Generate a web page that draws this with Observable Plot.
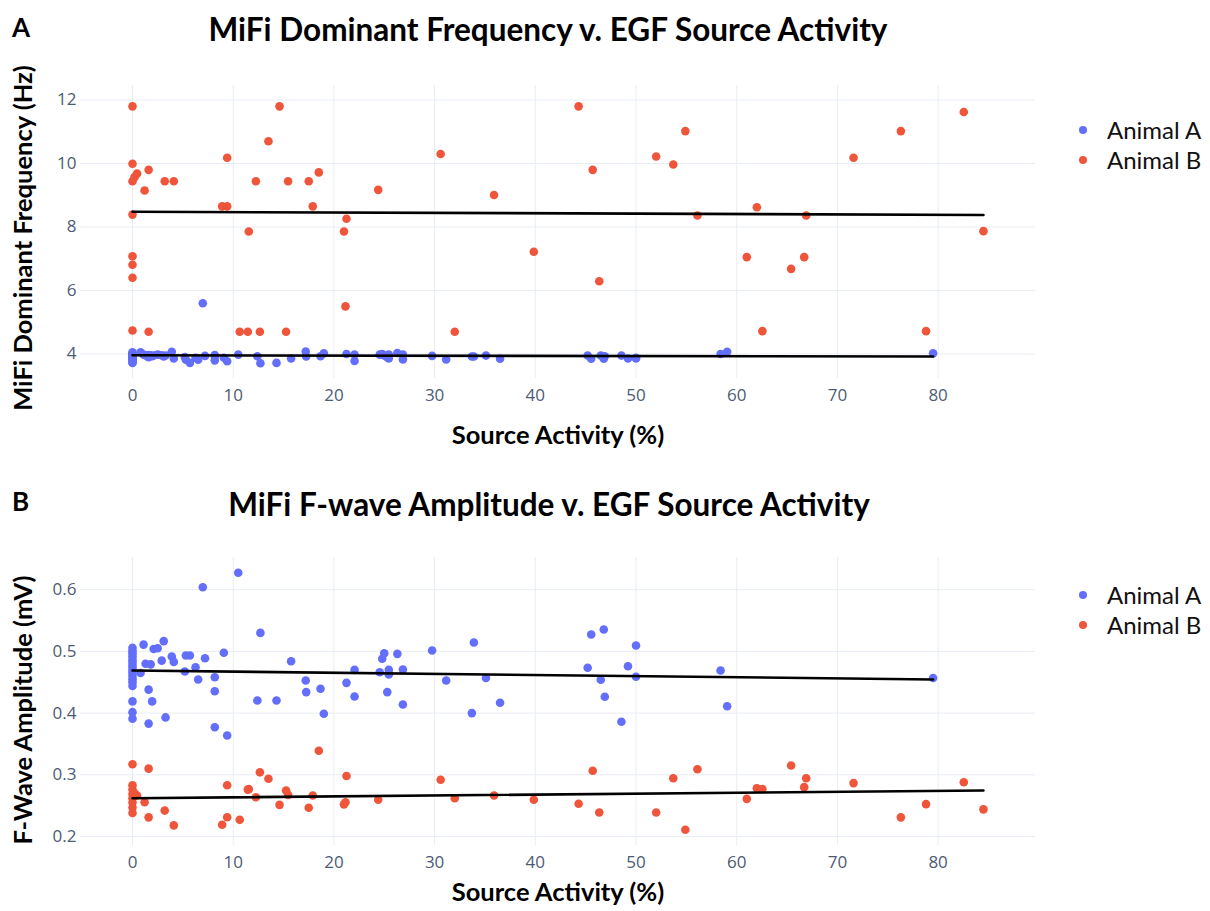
<!DOCTYPE html>
<html><head><meta charset="utf-8">
<script src="https://cdn.jsdelivr.net/npm/d3@7"></script>
<script src="https://cdn.jsdelivr.net/npm/@observablehq/plot@0.6"></script>
<style>
html,body{margin:0;padding:0;background:#fff;}
#fig{position:relative;width:1210px;height:911px;overflow:hidden;background:#fff;}
#fig > svg{position:absolute;}
</style></head><body><div id="fig"></div>
<script>
// ---------- tick labels / categories ----------
const activityTicks = [0,10,20,30,40,50,60,70,80];
const freqTicks = [4,6,8,10,12];
const ampTicks = [0.2,0.3,0.4,0.5,0.6];
const seriesNames = ["Animal A","Animal B"];
const seriesColors = ["#636efa","#ef553b"];

// ---------- Animal A (source activity %, dominant frequency Hz, F-wave amplitude mV) ----------
const animalA_activity = [0,0,0,0,0,0,0,0,0,0,0,0,0,0,0,0,0,
  0.8,1.1,1.3,1.6,1.6,1.8,1.95,2.1,2.5,2.9,3.1,3.28,3.9,4.1,5.2,5.3,5.7,6.26,6.52,6.98,7.2,
  8.17,8.17,8.17,9.07,9.4,10.5,12.4,12.7,14.3,15.75,17.2,17.25,18.67,19.0,21.25,22.05,22.05,
  24.55,24.8,25.0,25.3,25.45,25.45,26.3,26.85,26.85,29.75,31.15,33.7,33.9,35.1,36.5,
  45.2,45.55,46.5,46.8,46.9,48.55,49.2,50.0,50.0,58.4,59.05,79.5];
const animalA_freq = [4.05,4.02,4.0,3.98,3.96,3.95,3.93,3.92,3.9,3.88,3.86,3.84,3.82,3.8,3.78,3.75,3.72,
  4.05,3.98,3.95,3.97,3.9,3.96,3.93,3.95,3.98,3.96,3.92,3.95,4.07,3.86,3.9,3.82,3.72,3.88,3.82,5.6,3.94,
  3.97,3.8,3.92,3.88,3.77,3.98,3.93,3.71,3.72,3.86,4.08,3.92,3.93,4.02,4.0,3.98,3.78,
  3.98,4.0,3.95,3.9,3.98,3.86,4.03,3.98,3.83,3.94,3.83,3.92,3.92,3.95,3.85,
  3.95,3.85,3.95,3.85,3.93,3.95,3.86,3.86,3.88,4.0,4.07,4.02];
const animalA_amp = [0.506,0.501,0.497,0.492,0.487,0.483,0.478,0.474,0.469,0.465,0.46,0.455,0.45,0.444,0.419,0.4015,0.391,
  0.465,0.511,0.48,0.438,0.383,0.479,0.419,0.504,0.505,0.485,0.5166,0.393,0.4917,0.483,0.4674,0.4934,0.4934,0.4744,0.4545,0.604,0.489,
  0.458,0.4355,0.377,0.4977,0.3637,0.6274,0.4204,0.530,0.4204,0.484,0.4528,0.434,0.4394,0.3989,0.449,0.470,0.4269,
  0.4663,0.488,0.497,0.434,0.470,0.4625,0.496,0.4707,0.414,0.5015,0.4528,0.40,0.5144,0.457,0.4167,
  0.4734,0.5274,0.454,0.5355,0.4264,0.386,0.476,0.5096,0.4588,0.469,0.411,0.457];

// ---------- Animal B ----------
const animalB_activity = [0,0,0,0,0,0,0,0,0.2,0.45,
  1.2,1.6,1.6,3.2,4.1,8.9,9.4,9.4,10.65,11.45,11.55,12.25,12.65,13.5,14.6,15.25,15.45,17.5,17.9,18.5,
  21.0,21.15,21.25,24.4,30.6,32.0,35.9,39.85,44.3,45.7,46.35,52.0,53.7,54.9,56.1,61.0,62.0,62.55,
  65.4,66.7,66.9,71.6,76.3,78.8,82.55,84.5];
const animalB_freq = [11.8,9.99,9.44,8.39,7.08,6.81,6.4,4.74,9.57,9.68,
  9.15,9.8,4.7,9.44,9.44,8.65,8.65,10.18,4.7,4.7,7.86,9.44,4.7,10.7,11.8,4.7,9.44,9.44,8.65,9.72,
  7.86,5.5,8.26,9.17,10.3,4.7,9.01,7.22,11.8,9.8,6.29,10.22,9.97,11.02,8.36,7.05,8.62,4.72,
  6.68,7.05,8.36,10.18,11.02,4.72,11.62,7.87];
const animalB_amp = [0.276,0.283,0.269,0.262,0.255,0.247,0.238,0.317,0.27,0.2665,
  0.2556,0.31,0.231,0.242,0.218,0.219,0.2313,0.283,0.227,0.276,0.2767,0.2637,0.304,0.2935,0.2513,0.2745,0.2675,0.2465,0.2665,0.339,
  0.252,0.2556,0.298,0.2595,0.292,0.262,0.2665,0.2595,0.253,0.3065,0.239,0.239,0.2945,0.211,0.309,0.261,0.278,0.277,
  0.315,0.28,0.2945,0.2865,0.231,0.2525,0.288,0.244];

// ---------- fitted trend lines (intercept, slope per series) ----------
const freqFitIntercept = [3.96, 8.48];
const freqFitSlope = [-0.0005, -0.00118];
const ampFitIntercept = [0.469, 0.262];
const ampFitSlope = [-0.000182, 0.000148];

// ---------- tables built from the arrays ----------
const rows = [
  ...animalA_activity.map((a,i)=>({animal:seriesNames[0], activity:a, freq:animalA_freq[i], amp:animalA_amp[i]})),
  ...animalB_activity.map((a,i)=>({animal:seriesNames[1], activity:a, freq:animalB_freq[i], amp:animalB_amp[i]}))
];
const extents = [d3.extent(animalA_activity), d3.extent(animalB_activity)];
const fitRows = (intercepts, slopes) => seriesNames.flatMap((name, i) =>
  extents[i].map(x => ({animal: name, activity: x, value: intercepts[i] + slopes[i] * x})));

const fig = document.getElementById("fig");
const tickColor = "#4d5b74";
const gridColor = "#e8edf5";

function panel({yKey, yDomain, yTicks, yFmt, fits, top, height, mt, mb}) {
  const chart = Plot.plot({
    width: 1060, height, marginLeft: 80, marginRight: 25, marginTop: mt, marginBottom: mb,
    style: {fontFamily: "'Open Sans', sans-serif", fontSize: "17px", color: tickColor, background: "transparent", overflow: "visible"},
    x: {domain: [-5.164, 89.67]},
    y: {domain: yDomain},
    color: {domain: seriesNames, range: seriesColors},
    marks: [
      Plot.gridX(activityTicks, {stroke: gridColor, strokeOpacity: 1, strokeWidth: 1}),
      Plot.gridY(yTicks, {stroke: gridColor, strokeOpacity: 1, strokeWidth: 1}),
      Plot.axisX(activityTicks, {tickSize: 0, tickPadding: 10, label: null}),
      Plot.axisY(yTicks, {tickSize: 0, tickPadding: 4, label: null, tickFormat: yFmt}),
      Plot.dot(rows, {x: "activity", y: yKey, fill: "animal", r: 4.3}),
      Plot.line(fits, {x: "activity", y: "value", z: "animal", stroke: "#000", strokeWidth: 2.6})
    ]
  });
  chart.style.left = "0px";
  chart.style.top = top + "px";
  fig.append(chart);
}

panel({yKey: "freq", yDomain: [3.228, 12.457], yTicks: freqTicks, yFmt: d => String(d),
  fits: fitRows(freqFitIntercept, freqFitSlope), top: 60, height: 360, mt: 25, mb: 42});
panel({yKey: "amp", yDomain: [0.1854, 0.6522], yTicks: ampTicks, yFmt: d => d.toFixed(1),
  fits: fitRows(ampFitIntercept, ampFitSlope), top: 540, height: 345, mt: 17, mb: 40});

// ---------- titles, axis titles, legends ----------
const ann = d3.create("svg").attr("width", 1210).attr("height", 911)
  .style("left", "0px").style("top", "0px").style("pointer-events", "none");
const T = (txt, x, y, o = {}) => ann.append("text").text(txt).attr("x", x).attr("y", y)
  .attr("font-family", o.family || "Lato, 'Open Sans', sans-serif")
  .attr("font-size", o.size || 22).attr("font-weight", o.weight || "bold")
  .attr("fill", o.fill || "#000").attr("text-anchor", o.anchor || "start")
  .attr("transform", o.rotate ? `rotate(-90 ${x} ${y})` : null);

T("A", 12, 37, {size: 26});
T("MiFi Dominant Frequency v. EGF Source Activity", 548, 41, {size: 31.5, anchor: "middle"});
T("MiFi Dominant Frequency (Hz)", 32, 238, {size: 25.5, anchor: "middle", rotate: true});
T("Source Activity (%)", 558, 444, {size: 25.5, anchor: "middle"});

T("B", 12, 511, {size: 26});
T("MiFi F-wave Amplitude v. EGF Source Activity", 549, 516, {size: 31.5, anchor: "middle"});
T("F-Wave Amplitude (mV)", 32, 710, {size: 25.5, anchor: "middle", rotate: true});
T("Source Activity (%)", 558, 901, {size: 25.5, anchor: "middle"});

function legend(yA) {
  seriesNames.forEach((name, i) => {
    const cy = yA + i * 30;
    ann.append("circle").attr("cx", 1083).attr("cy", cy).attr("r", 4).attr("fill", seriesColors[i]);
    T(name, 1107, cy + 8.5, {size: 24, weight: "normal", fill: "#111"});
  });
}
legend(130);
legend(595);

fig.append(ann.node());
</script>
</body></html>
